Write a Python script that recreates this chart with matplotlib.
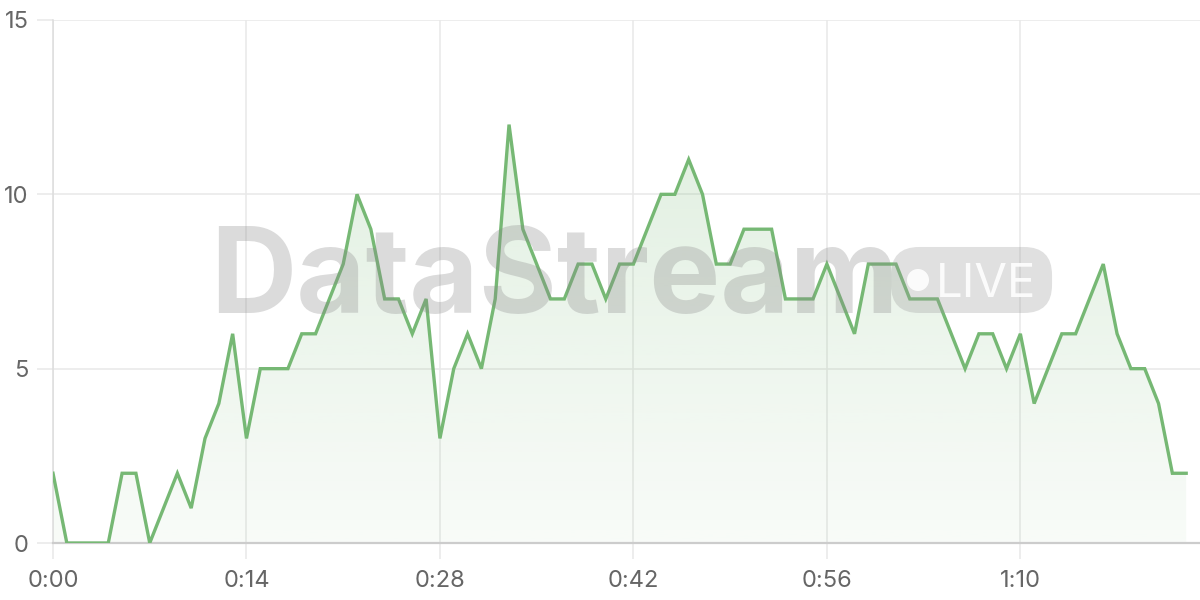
import matplotlib
matplotlib.use("Agg")
import matplotlib.pyplot as plt
from matplotlib.patches import FancyBboxPatch, Ellipse
from matplotlib.ticker import FuncFormatter, MultipleLocator
import numpy as np

# one reading per second
seconds = list(range(83))
values = [2, 0, 0, 0, 0, 2, 2, 0, 1, 2, 1, 3, 4, 6, 3, 5, 5, 5, 6, 6,
          7, 8, 10, 9, 7, 7, 6, 7, 3, 5, 6, 5, 7, 12, 9, 8, 7, 7, 8, 8,
          7, 8, 8, 9, 10, 10, 11, 10, 8, 8, 9, 9, 9, 7, 7, 7, 8, 7, 6, 8,
          8, 8, 7, 7, 7, 6, 5, 6, 6, 5, 6, 4, 5, 6, 6, 7, 8, 6, 5, 5,
          4, 2, 2]
tick_seconds = [0, 14, 28, 42, 56, 70]

line_color = '#76b874'
grid_color = '#e8e8e8'
text_color = '#666666'

plt.rcParams['font.family'] = ['Inter', 'DejaVu Sans']

fig = plt.figure(figsize=(12, 6), dpi=100)
ax = fig.add_axes([53 / 1200, 57 / 600, 1147 / 1200, 523 / 600])

x = np.array(seconds)
y = np.array(values)

# gradient fill under the line
poly = ax.fill_between(x, y, 0, facecolor='none', edgecolor='none')
grad = np.zeros((256, 1, 4))
rgb = matplotlib.colors.to_rgb(line_color)
grad[:, :, 0], grad[:, :, 1], grad[:, :, 2] = rgb
grad[:, 0, 3] = np.linspace(0.26, 0.05, 256)
img = ax.imshow(grad, extent=[x.min(), x.max(), 0, 15], aspect='auto',
                origin='upper', zorder=1)
img.set_clip_path(poly.get_paths()[0], transform=ax.transData)

ax.plot(x, y, color=line_color, lw=2.4, solid_joinstyle='miter', zorder=3)

ax.set_xlim(0, 83)
ax.set_ylim(0, 15)
ax.set_xticks(tick_seconds)
ax.xaxis.set_major_formatter(FuncFormatter(lambda v, p: f"{int(v) // 60}:{int(v) % 60:02d}"))
ax.yaxis.set_major_locator(MultipleLocator(5))

ax.grid(True, color=grid_color, lw=1.1, zorder=0)
ax.set_axisbelow(True)
for s in ['top', 'right']:
    ax.spines[s].set_visible(False)
ax.spines['left'].set_color('#dddddd')
ax.spines['left'].set_linewidth(1.1)
ax.spines['bottom'].set_color('#cccccc')
ax.spines['bottom'].set_linewidth(1.6)
ax.tick_params(axis='both', colors=grid_color, width=1.1, length=11.5,
               labelcolor=text_color, labelsize=17)
ax.tick_params(axis='x', pad=8)
ax.tick_params(axis='y', pad=6)

# watermark overlay
ax.text(0.137, 0.44, 'DataStream', transform=ax.transAxes, fontsize=86,
        fontweight='bold', color='#888888', alpha=0.3, va='baseline',
        ha='left', zorder=5)
box = FancyBboxPatch((0.7306, 0.4398), 0.1404, 0.1262,
                     boxstyle='round,pad=0,rounding_size=0.0244',
                     mutation_aspect=1147 / 523, transform=ax.transAxes,
                     fc='#999999', ec='none', alpha=0.3, zorder=5)
ax.add_patch(box)
ax.add_patch(Ellipse(((918 - 53) / 1147, (543 - 280) / 523), 22 / 1147, 22 / 523,
                     transform=ax.transAxes, fc='white', ec='none', alpha=0.9, zorder=6))
ax.text((936 - 53) / 1147, (543 - 297) / 523, 'LIVE', transform=ax.transAxes,
        fontsize=34, color='white', alpha=0.9, va='baseline', ha='left', zorder=6)

fig.savefig('out.png', dpi=100)
